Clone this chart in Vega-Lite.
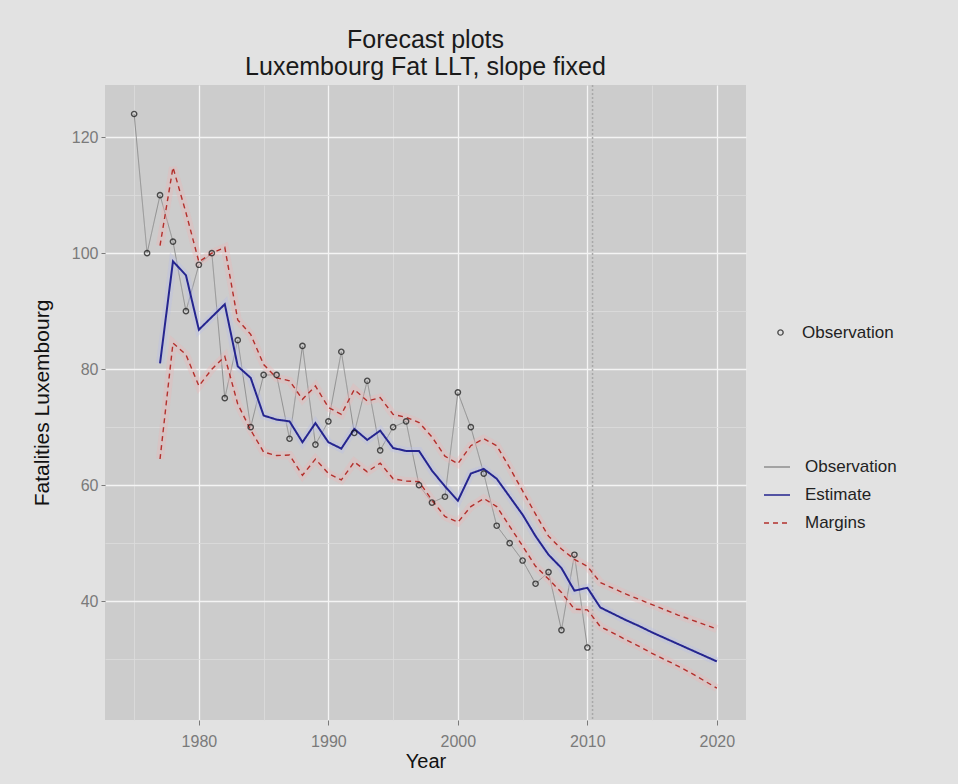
{
  "$schema": "https://vega.github.io/schema/vega-lite/v6.json",
  "width": 641,
  "height": 635,
  "autosize": {"type": "none"},
  "padding": {"left": 105, "top": 85, "right": 212, "bottom": 64},
  "background": "#e2e2e2",
  "title": {
    "text": ["Forecast plots", "Luxembourg Fat LLT, slope fixed"],
    "anchor": "middle",
    "frame": "group",
    "fontSize": 25,
    "lineHeight": 27,
    "font": "Liberation Sans",
    "fontWeight": "normal",
    "color": "#1a1a1a",
    "offset": 4
  },
  "config": {
    "view": {"fill": "#cccccc", "stroke": null},
    "axis": {
      "domain": false,
      "labelFont": "Liberation Sans",
      "titleFont": "Liberation Sans",
      "labelColor": "#7a7a7a",
      "tickColor": "#7a7a7a",
      "titleColor": "#111111",
      "titleFontWeight": "normal",
      "labelFontSize": 16,
      "titleFontSize": 20
    },
    "legend": {
      "labelFont": "Liberation Sans",
      "labelFontSize": 17,
      "labelColor": "#222222"
    }
  },
  "datasets": {
    "fc": [
      {"year": 1975, "obs": 124, "est": null, "upper": null, "lower": null},
      {"year": 1976, "obs": 100, "est": null, "upper": null, "lower": null},
      {"year": 1977, "obs": 110, "est": 81.0, "upper": 101.3, "lower": 64.5},
      {"year": 1978, "obs": 102, "est": 98.6, "upper": 114.8, "lower": 84.5},
      {"year": 1979, "obs": 90, "est": 96.2, "upper": 107.0, "lower": 82.5},
      {"year": 1980, "obs": 98, "est": 86.8, "upper": 98.5, "lower": 77.1},
      {"year": 1981, "obs": 100, "est": 89.0, "upper": 100.0, "lower": 80.0},
      {"year": 1982, "obs": 75, "est": 91.2, "upper": 101.0, "lower": 82.2},
      {"year": 1983, "obs": 85, "est": 80.5, "upper": 88.5, "lower": 74.0},
      {"year": 1984, "obs": 70, "est": 78.5, "upper": 86.0, "lower": 69.5},
      {"year": 1985, "obs": 79, "est": 72.0, "upper": 80.8, "lower": 65.7},
      {"year": 1986, "obs": 79, "est": 71.3, "upper": 78.5, "lower": 65.1},
      {"year": 1987, "obs": 68, "est": 71.0, "upper": 78.0, "lower": 65.2},
      {"year": 1988, "obs": 84, "est": 67.4, "upper": 74.8, "lower": 61.7},
      {"year": 1989, "obs": 67, "est": 70.7, "upper": 77.1, "lower": 64.5},
      {"year": 1990, "obs": 71, "est": 67.4, "upper": 73.4, "lower": 62.0},
      {"year": 1991, "obs": 83, "est": 66.3, "upper": 72.2, "lower": 60.9},
      {"year": 1992, "obs": 69, "est": 69.7, "upper": 76.5, "lower": 64.0},
      {"year": 1993, "obs": 78, "est": 67.8, "upper": 74.5, "lower": 62.3},
      {"year": 1994, "obs": 66, "est": 69.4, "upper": 75.1, "lower": 63.8},
      {"year": 1995, "obs": 70, "est": 66.4, "upper": 72.2, "lower": 61.1},
      {"year": 1996, "obs": 71, "est": 65.9, "upper": 71.7, "lower": 60.7},
      {"year": 1997, "obs": 60, "est": 65.9, "upper": 70.8, "lower": 60.6},
      {"year": 1998, "obs": 57, "est": 62.5, "upper": 68.3, "lower": 57.4},
      {"year": 1999, "obs": 58, "est": 59.8, "upper": 65.0, "lower": 54.6},
      {"year": 2000, "obs": 76, "est": 57.3, "upper": 63.7, "lower": 53.6},
      {"year": 2001, "obs": 70, "est": 62.0, "upper": 66.8, "lower": 56.3},
      {"year": 2002, "obs": 62, "est": 62.8, "upper": 68.0, "lower": 57.7},
      {"year": 2003, "obs": 53, "est": 61.1, "upper": 66.8, "lower": 56.3},
      {"year": 2004, "obs": 50, "est": 58.0, "upper": 63.0, "lower": 52.9},
      {"year": 2005, "obs": 47, "est": 54.9, "upper": 59.0, "lower": 49.5},
      {"year": 2006, "obs": 43, "est": 51.2, "upper": 55.0, "lower": 46.0},
      {"year": 2007, "obs": 45, "est": 48.0, "upper": 51.2, "lower": 43.8},
      {"year": 2008, "obs": 35, "est": 45.7, "upper": 49.0, "lower": 41.5},
      {"year": 2009, "obs": 48, "est": 41.8, "upper": 47.2, "lower": 38.6},
      {"year": 2010, "obs": 32, "est": 42.3, "upper": 46.0, "lower": 38.5},
      {"year": 2011, "obs": null, "est": 38.9, "upper": 43.2, "lower": 35.6},
      {"year": 2012, "obs": null, "est": 37.8, "upper": 42.2, "lower": 34.5},
      {"year": 2013, "obs": null, "est": 36.7, "upper": 41.2, "lower": 33.3},
      {"year": 2014, "obs": null, "est": 35.7, "upper": 40.3, "lower": 32.2},
      {"year": 2015, "obs": null, "est": 34.6, "upper": 39.4, "lower": 31.0},
      {"year": 2016, "obs": null, "est": 33.6, "upper": 38.5, "lower": 29.9},
      {"year": 2017, "obs": null, "est": 32.6, "upper": 37.6, "lower": 28.8},
      {"year": 2018, "obs": null, "est": 31.6, "upper": 36.8, "lower": 27.6},
      {"year": 2019, "obs": null, "est": 30.6, "upper": 36.0, "lower": 26.3},
      {"year": 2020, "obs": null, "est": 29.6, "upper": 35.2, "lower": 25.0}
    ],
    "marker": [{"year": 2010.4}]
  },
  "data": {"name": "fc"},
  "encoding": {
    "x": {
      "field": "year",
      "type": "quantitative",
      "scale": {"domain": [1972.75, 2022.25], "nice": false, "zero": false},
      "axis": {
        "title": "Year",
        "values": [1975, 1980, 1985, 1990, 1995, 2000, 2005, 2010, 2015, 2020],
        "labelExpr": "datum.value % 10 === 0 ? datum.value : ''",
        "grid": true,
        "gridColor": {"condition": {"test": "datum.value % 10 !== 0", "value": "#dcdcdc"}, "value": "#f4f4f4"},
        "gridWidth": {"condition": {"test": "datum.value % 10 !== 0", "value": 0.8}, "value": 1.3},
        "tickOpacity": {"condition": {"test": "datum.value % 10 !== 0", "value": 0}, "value": 1},
        "tickSize": 5,
        "labelPadding": 8,
        "titlePadding": 2
      }
    }
  },
  "layer": [
    {
      "data": {"name": "marker"},
      "mark": {"type": "rule", "color": "#a8a8a8", "strokeDash": [2, 2], "strokeWidth": 1.5},
      "encoding": {"x": {"field": "year", "type": "quantitative"}}
    },
    {
      "transform": [{"filter": "datum.obs != null"}],
      "mark": {"type": "line", "strokeWidth": 1},
      "encoding": {
        "y": {
          "field": "obs",
          "type": "quantitative",
          "scale": {"domain": [19.5, 129], "nice": false, "zero": false},
          "axis": {
            "title": "Fatalities Luxembourg",
            "titleFontSize": 21,
            "values": [30, 40, 50, 60, 70, 80, 90, 100, 110, 120],
            "labelExpr": "datum.value % 20 === 0 ? datum.value : ''",
            "grid": true,
            "gridColor": {"condition": {"test": "datum.value % 20 !== 0", "value": "#dcdcdc"}, "value": "#f4f4f4"},
            "gridWidth": {"condition": {"test": "datum.value % 20 !== 0", "value": 0.8}, "value": 1.3},
            "tickOpacity": {"condition": {"test": "datum.value % 20 !== 0", "value": 0}, "value": 1},
            "tickSize": 4,
            "labelPadding": 3,
            "titlePadding": 19
          }
        },
        "color": {
          "datum": "Observation",
          "type": "nominal",
          "scale": {"domain": ["Observation", "Estimate", "Margins"], "range": ["#8f8f8f", "#25258f", "#b3302c"]},
          "legend": {"orient": "none", "legendX": 658, "legendY": 368, "title": null, "symbolType": "stroke", "symbolSize": 676, "symbolStrokeWidth": 1.6, "labelOffset": 14, "rowPadding": 6}
        },
        "strokeDash": {
          "datum": "Observation",
          "type": "nominal",
          "scale": {"domain": ["Observation", "Estimate", "Margins"], "range": [[1, 0], [1, 0], [5, 4]]},
          "legend": {"orient": "none", "legendX": 658, "legendY": 368, "title": null, "symbolType": "stroke", "symbolSize": 676, "symbolStrokeWidth": 1.6, "labelOffset": 14, "rowPadding": 6}
        }
      }
    },
    {
      "transform": [{"filter": "datum.est != null"}],
      "mark": {"type": "line", "strokeWidth": 8, "color": "#b8bce8", "opacity": 0.35},
      "encoding": {"y": {"field": "est", "type": "quantitative"}}
    },
    {
      "transform": [{"filter": "datum.est != null"}, {"fold": ["upper", "lower"], "as": ["band", "m"]}],
      "mark": {"type": "line", "strokeWidth": 8, "color": "#eab4b4", "opacity": 0.35},
      "encoding": {
        "y": {"field": "m", "type": "quantitative"},
        "detail": {"field": "band", "type": "nominal"}
      }
    },
    {
      "transform": [{"filter": "datum.est != null"}],
      "mark": {"type": "line", "strokeWidth": 2},
      "encoding": {
        "y": {"field": "est", "type": "quantitative"},
        "color": {"datum": "Estimate", "type": "nominal"},
        "strokeDash": {"datum": "Estimate", "type": "nominal"}
      }
    },
    {
      "transform": [{"filter": "datum.est != null"}, {"fold": ["upper", "lower"], "as": ["band", "m"]}],
      "mark": {"type": "line", "strokeWidth": 1.4},
      "encoding": {
        "y": {"field": "m", "type": "quantitative"},
        "detail": {"field": "band", "type": "nominal"},
        "color": {"datum": "Margins", "type": "nominal"},
        "strokeDash": {"datum": "Margins", "type": "nominal"}
      }
    },
    {
      "transform": [{"filter": "datum.obs != null"}],
      "mark": {"type": "point", "filled": false, "stroke": "#111111", "strokeWidth": 1.4, "size": 28},
      "encoding": {
        "y": {"field": "obs", "type": "quantitative"},
        "shape": {
          "datum": "Observation",
          "type": "nominal",
          "scale": {"domain": ["Observation"], "range": ["circle"]},
          "legend": {"orient": "none", "legendX": 667, "legendY": 239, "title": null, "symbolStrokeColor": "#111111", "symbolFillColor": "transparent", "symbolSize": 28, "symbolStrokeWidth": 1.4, "labelOffset": 13}
        }
      }
    }
  ]
}
